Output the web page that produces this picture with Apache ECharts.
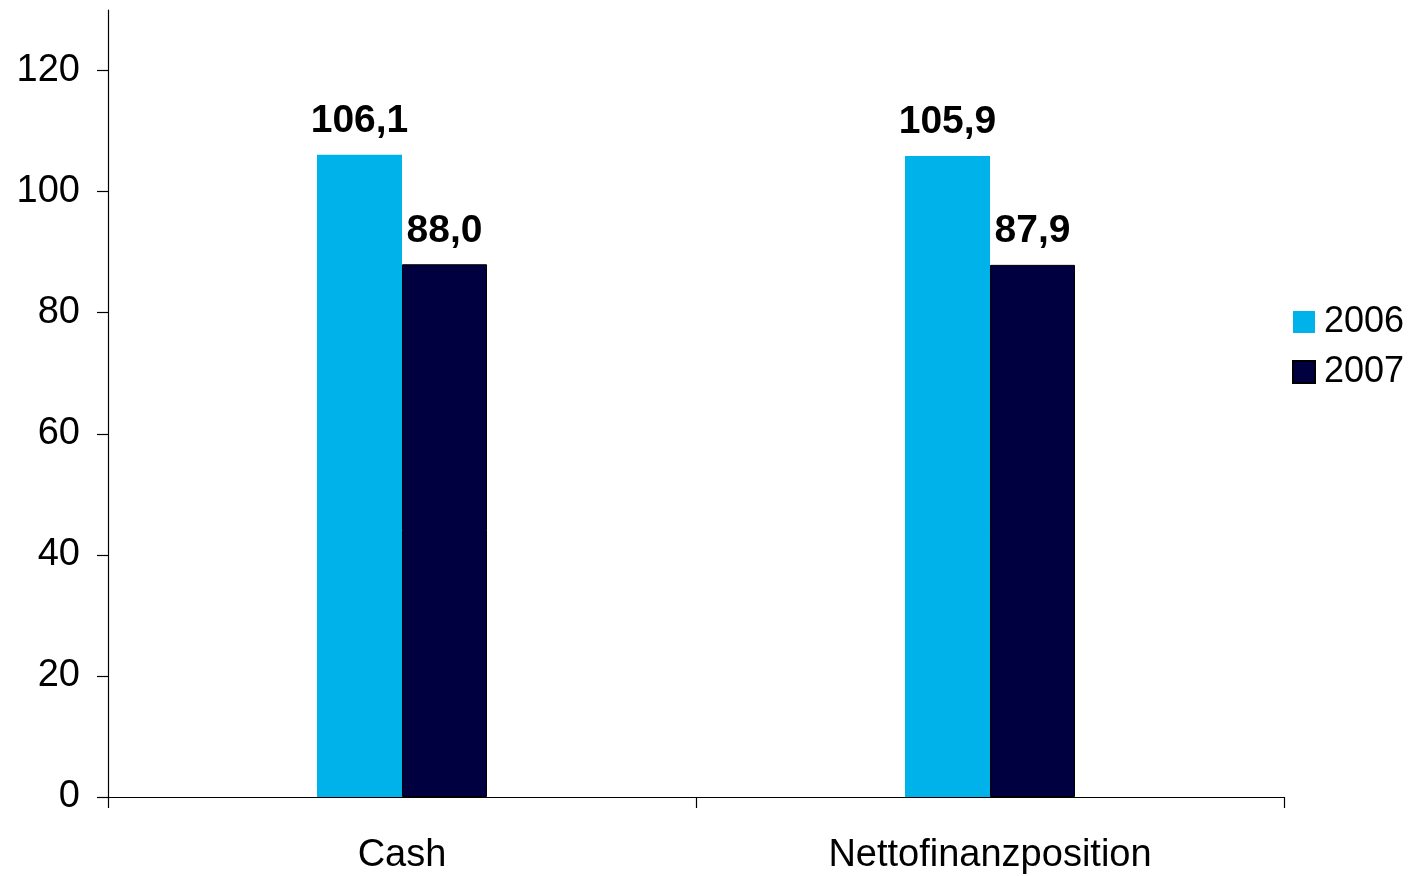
<!DOCTYPE html>
<html>
<head>
<meta charset="utf-8">
<style>
html,body{margin:0;padding:0;background:#fff;}
#chart{width:1410px;height:876px;}
</style>
<script src="https://cdn.jsdelivr.net/npm/echarts@6/dist/echarts.min.js"></script>
</head>
<body>
<div id="chart"></div>
<script>
const categories = ['Cash', 'Nettofinanzposition'];
const seriesNames = ['2006', '2007'];
const values2006 = [106.1, 105.9];
const values2007 = [88.0, 87.9];
const yTicks = [0, 20, 40, 60, 80, 100, 120];

const chart = echarts.init(document.getElementById('chart'));
const font = 'Liberation Sans, Arial, sans-serif';
const fmt = p => p.value.toFixed(1).replace('.', ',');
const labelStyle = {
  show: true, position: 'top', distance: 14,
  formatter: fmt, fontFamily: font, fontSize: 39, fontWeight: 'bold', color: '#000'
};
chart.setOption({
  animation: false,
  backgroundColor: '#fff',
  grid: { left: 108, right: 126, top: 10, bottom: 79, containLabel: false },
  legend: {
    orient: 'vertical', left: 1292, top: 304, padding: 0,
    itemWidth: 22, itemHeight: 22, itemGap: 14,
    icon: 'rect',
    textStyle: { fontFamily: font, fontSize: 36, color: '#000', padding: [0, 0, 0, 4] },
    data: seriesNames
  },
  xAxis: {
    type: 'category', data: categories,
    axisLine: { lineStyle: { color: '#000', width: 1.2 } },
    axisTick: { show: true, length: 11, lineStyle: { color: '#000', width: 1.2 } },
    axisLabel: { margin: 40, fontFamily: font, fontSize: 38, color: '#000' }
  },
  yAxis: {
    type: 'value', min: 0, max: 130,
    axisLine: { show: true, lineStyle: { color: '#000', width: 1.2 } },
    axisTick: { show: true, length: 11, customValues: yTicks, lineStyle: { color: '#000', width: 1.2 } },
    axisLabel: { margin: 28, customValues: yTicks, fontFamily: font, fontSize: 38, color: '#000' },
    splitLine: { show: false }
  },
  series: [
    {
      name: seriesNames[0], type: 'bar', data: values2006, barWidth: 85, barGap: '0%',
      itemStyle: { color: '#00B2EA' }, label: labelStyle
    },
    {
      name: seriesNames[1], type: 'bar', data: values2007, barWidth: 85, barGap: '0%',
      itemStyle: { color: '#000040', borderColor: '#000', borderWidth: 1 }, label: labelStyle
    }
  ]
});
</script>
</body>
</html>
